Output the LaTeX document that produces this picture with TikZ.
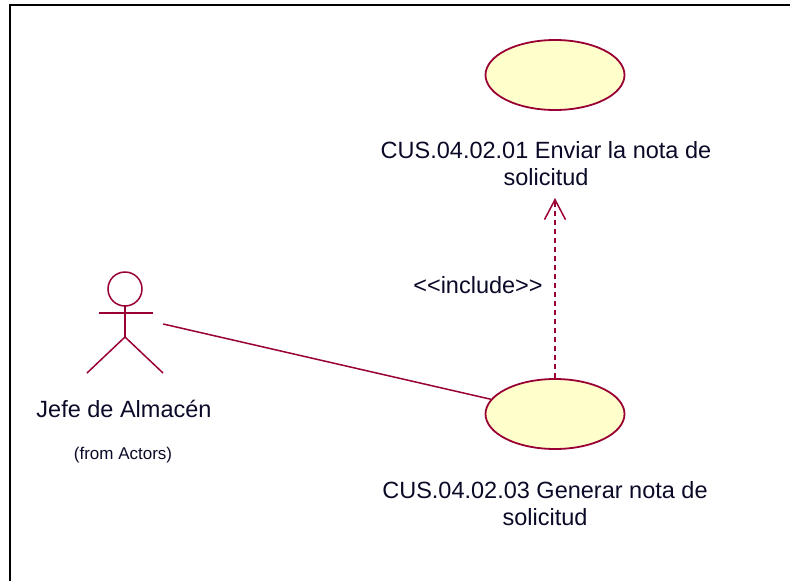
\documentclass[tikz,border=0pt]{standalone}
\usepackage{fontspec}
\setmainfont{Liberation Sans}
\usetikzlibrary{shapes.geometric,arrows.meta}
\definecolor{umlline}{RGB}{153,0,51}
\definecolor{umlfill}{RGB}{255,255,204}
\definecolor{umltext}{RGB}{10,10,40}
\begin{document}
\begin{tikzpicture}[x=1pt,y=-1pt,
  usecase/.style={ellipse,draw=umlline,fill=umlfill,line width=1.8pt,minimum width=139pt,minimum height=70pt,inner sep=0pt},
  lbl/.style={text=umltext,font=\fontsize{23.5}{27}\selectfont,align=center,inner sep=0pt},
  smalllbl/.style={text=umltext,font=\fontsize{17}{20}\selectfont,inner sep=0pt},
  actorbox/.style={draw=none,minimum width=76pt,minimum height=101pt,inner sep=0pt},
  figure/.style={draw=umlline,line width=1.5pt},
  assoc/.style={draw=umlline,line width=1.5pt},
  incl/.style={draw=umlline,line width=1.5pt,dash pattern=on 5pt off 4pt,-{Straight Barb[length=20pt,width=21pt,line width=1.5pt]}}
]
\useasboundingbox (0,0) rectangle (790,581);
\draw[line width=2pt] (10,581) -- (10,5) -- (790,5);

\node[usecase] (uc1) at (555,75) {};
\node[usecase] (uc2) at (555,414) {};
\node[lbl,anchor=north] (lab1) at (546,141) {CUS.04.02.01 Enviar la nota de\\solicitud};
\node[lbl,anchor=north] (lab2) at (545,481) {CUS.04.02.03 Generar nota de\\solicitud};

\node[actorbox] (actor) at (125,324) {};
\begin{scope}[shift={(actor.center)}]
  \draw[figure] (0,-35) circle (17);
  \draw[figure] (0,-18) -- (0,13);
  \draw[figure] (-26,-11) -- (28,-11);
  \draw[figure] (-38,49) -- (0,13) -- (38,49);
\end{scope}
\node[lbl,anchor=base] (actorname) at (124,417) {Jefe de Almacén};
\node[smalllbl,anchor=base] (actorfrom) at (123,459) {(from Actors)};

\coordinate (inctip) at (555,198);
\draw[assoc] (actor.east) -- (uc2);
\draw[incl] (uc2.north) -- (inctip);
\node[lbl,anchor=base] (inclbl) at (478,293) {{<}{<}include{>}{>}};
\end{tikzpicture}
\end{document}
